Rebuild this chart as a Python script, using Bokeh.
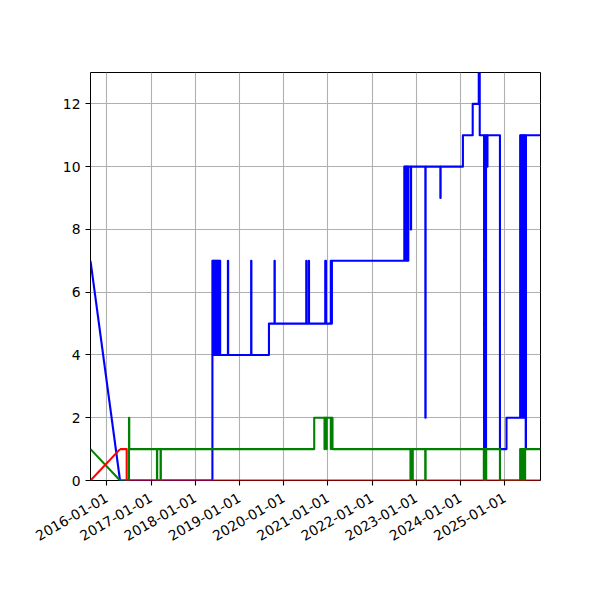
import math
import pandas as pd
from bokeh.plotting import figure
from bokeh.models import Range1d, FixedTicker, DatetimeTickFormatter
from bokeh.embed import file_html
from bokeh.resources import INLINE

# each series: the first two points are joined by a straight line,
# after that the value holds until the next point (step)
blue_dates = ["2015-08-20", "2016-04-20",
              "2018-05-23", "2018-05-27", "2018-05-30", "2018-06-04", "2018-06-07",
              "2018-06-13", "2018-06-16", "2018-06-23", "2018-06-26", "2018-07-04",
              "2018-07-07", "2018-07-15", "2018-07-18", "2018-07-26",
              "2018-09-28", "2018-09-30", "2019-04-08", "2019-04-10",
              "2019-09-02", "2019-10-18", "2019-10-20",
              "2020-07-06", "2020-07-08", "2020-07-27", "2020-07-29",
              "2020-12-10", "2020-12-16", "2021-01-25", "2021-01-28", "2021-02-03",
              "2022-09-24", "2022-09-27", "2022-09-30", "2022-10-03", "2022-10-06",
              "2022-10-10", "2022-10-13", "2022-10-17", "2022-10-20", "2022-10-24",
              "2022-10-27", "2022-11-17", "2022-11-19",
              "2023-03-17", "2023-03-19", "2023-07-19", "2023-07-21",
              "2024-01-21", "2024-04-11", "2024-05-31", "2024-06-08",
              "2024-07-14", "2024-07-17", "2024-07-20", "2024-07-24", "2024-07-27",
              "2024-07-30", "2024-08-09", "2024-08-11",
              "2024-11-22", "2025-01-15",
              "2025-05-08", "2025-05-11", "2025-05-14", "2025-05-18", "2025-05-21",
              "2025-05-25", "2025-05-28", "2025-06-01", "2025-06-04", "2025-06-08",
              "2025-06-11", "2025-06-15", "2025-06-18", "2025-06-23", "2025-06-25",
              "2025-10-23"]
blue_vals = [7, 0,
             7, 4, 7, 4, 7,
             4, 7, 4, 7, 4,
             7, 4, 7, 4,
             7, 4, 7, 4,
             5, 7, 5,
             7, 5, 7, 5,
             7, 5, 7, 5, 7,
             10, 7, 10, 7, 10,
             7, 10, 7, 10, 7,
             10, 8, 10,
             2, 10, 9, 10,
             11, 12, 13, 11,
             0, 11, 0, 11, 0,
             11, 10, 11,
             1, 2,
             11, 2, 11, 2, 11,
             2, 11, 2, 11, 2,
             11, 2, 11, 1, 11,
             11]

green_dates = ["2015-08-20", "2016-04-20",
               "2016-07-03", "2016-07-05",
               "2017-02-19", "2017-02-21", "2017-03-21", "2017-03-23",
               "2020-09-10", "2020-12-04", "2020-12-06", "2020-12-20", "2020-12-22",
               "2021-01-25", "2021-01-28", "2021-02-08",
               "2022-11-14", "2022-11-17", "2022-11-22", "2022-11-25", "2022-11-30",
               "2022-12-03", "2023-03-16", "2023-03-19",
               "2024-07-12", "2024-07-16", "2024-07-19", "2024-07-23", "2024-07-26",
               "2024-07-31", "2024-11-22",
               "2025-05-08", "2025-05-11", "2025-05-14", "2025-05-18", "2025-05-21",
               "2025-05-25", "2025-05-28", "2025-06-01", "2025-06-04", "2025-06-08",
               "2025-06-11", "2025-06-15", "2025-06-18",
               "2025-10-23"]
green_vals = [1, 0,
              2, 1,
              0, 1, 0, 1,
              2, 1, 2, 1, 2,
              1, 2, 1,
              0, 1, 0, 1, 0,
              1, 0, 1,
              0, 1, 0, 1, 0,
              1, 0,
              1, 0, 1, 0, 1,
              0, 1, 0, 1, 0,
              1, 0, 1,
              1]

red_dates = ["2015-08-20", "2016-04-20", "2016-06-14", "2025-10-23"]
red_vals = [0, 1, 0, 0]

tick_labels = ["2016-01-01", "2017-01-01", "2018-01-01", "2019-01-01", "2020-01-01",
               "2021-01-01", "2022-01-01", "2023-01-01", "2024-01-01", "2025-01-01"]
y_ticks = [0, 2, 4, 6, 8, 10, 12]


def ms(d):
    return pd.Timestamp(d).timestamp() * 1000


p = figure(x_axis_type="datetime", output_backend="svg", toolbar_location=None,
           frame_width=450, frame_height=408,
           min_border_left=90, min_border_right=52, min_border_top=72, min_border_bottom=104,
           x_range=Range1d(ms(blue_dates[0]), ms(blue_dates[-1])),
           y_range=Range1d(0, 13))

series = [(blue_dates, blue_vals, "blue"),
          (green_dates, green_vals, "green"),
          (red_dates, red_vals, "red")]
for dates, vals, col in series:
    xs = [ms(d) for d in dates]
    p.line(xs[:2], vals[:2], line_color=col, line_width=2.1, line_join="round")
    p.step(xs[1:], vals[1:], mode="after", line_color=col, line_width=2.1, line_join="round")

p.xaxis.ticker = FixedTicker(ticks=[ms(t) for t in tick_labels])
fmt = "%Y-%m-%d"
p.xaxis.formatter = DatetimeTickFormatter(years=fmt, months=fmt, days=fmt, hours=fmt,
                                          minutes=fmt, seconds=fmt, milliseconds=fmt)
p.xaxis.major_label_orientation = math.pi / 6
p.yaxis.ticker = FixedTicker(ticks=y_ticks)

p.axis.minor_tick_line_color = None
p.axis.major_tick_out = 5
p.axis.major_tick_in = 0
p.axis.major_tick_line_width = 1.1
p.axis.axis_line_color = None
p.axis.major_label_text_font = "DejaVu Sans"
p.axis.major_label_text_font_size = "13.9px"
p.axis.major_label_text_color = "black"
p.yaxis.major_label_standoff = 5
p.xaxis.major_label_standoff = 11

p.grid.grid_line_color = "#b0b0b0"
p.grid.grid_line_width = 1.1
p.outline_line_color = "black"
p.outline_line_width = 1
p.background_fill_color = "white"
p.border_fill_color = "white"

open("out.html", "w").write(file_html(p, INLINE))
